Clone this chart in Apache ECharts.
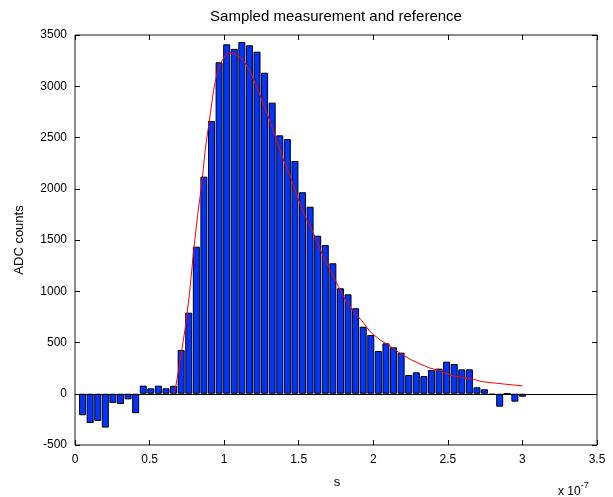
<!DOCTYPE html>
<html>
<head>
<meta charset="utf-8">
<script src="https://cdn.jsdelivr.net/npm/echarts@6/dist/echarts.min.js"></script>
<style>
  html, body { margin: 0; padding: 0; background: #ffffff; }
  #chart { width: 613px; height: 497px; }
</style>
</head>
<body>
<div id="chart"></div>
<script>
// ADC sampling grid: sample k (k = 1..N) lies at k * SAMPLE_PERIOD seconds
const SAMPLE_PERIOD = 5.085e-9;
// x axis is shown in units of 1e-7 s
const TIME_UNIT = 1e-7;

// Sampled measurement, ADC counts per sample
const measuredCounts = [
  -210, -285, -265, -330, -90, -100, -55, -190, 79, 53,
  79, 53, 78, 427, 791, 1435, 2118, 2661, 3234, 3409,
  3365, 3432, 3400, 3337, 3132, 2840, 2521, 2485, 2271, 1966,
  1825, 1542, 1451, 1273, 1029, 970, 834, 654, 573, 417,
  492, 453, 401, 183, 209, 173, 232, 245, 313, 290,
  238, 238, 63, 43, -10, -126, 0, -77, -29
];

// Reference pulse shape (time in 1e-7 s, ADC counts)
const referenceTime = [
  0.660, 0.672, 0.706, 0.739, 0.768, 0.795, 0.822, 0.851, 0.873, 0.907,
  0.929, 0.952, 0.974, 1.007, 1.030, 1.063, 1.108, 1.141, 1.175, 1.197,
  1.231, 1.304, 1.349, 1.398, 1.448, 1.499, 1.544, 1.599, 1.655, 1.711,
  1.767, 1.812, 1.867, 1.924, 1.979, 2.046, 2.113, 2.180, 2.247, 2.314,
  2.381, 2.449, 2.538, 2.605, 2.672, 2.728, 2.828, 2.895, 2.984, 3.000
];
const referenceCounts = [
  10, 40, 330, 640, 980, 1390, 1740, 2060, 2380, 2730,
  2960, 3125, 3220, 3300, 3328, 3322, 3282, 3224, 3142, 3068,
  2947, 2671, 2483, 2280, 2102, 1890, 1727, 1565, 1370, 1207,
  1045, 915, 800, 712, 605, 524, 466, 395, 336, 290,
  250, 225, 173, 157, 141, 118, 102, 92, 79, 76
];

// Axis ranges and tick steps
const xRange = [0, 3.5];
const xStep = 0.5;
const yRange = [-500, 3500];
const yStep = 500;

const FONT = "'Liberation Sans', Arial, Helvetica, sans-serif";

const barData = measuredCounts.map((v, i) => [(i + 1) * SAMPLE_PERIOD / TIME_UNIT, v]);
const lineData = referenceTime.map((t, i) => [t, referenceCounts[i]]);

const chart = echarts.init(document.getElementById('chart'), null, { renderer: 'canvas' });

const tickStyle = { inside: true, length: 5, lineStyle: { color: '#000', width: 1 } };

chart.setOption({
  animation: false,
  backgroundColor: '#ffffff',
  grid: {
    left: 75, top: 35, width: 522, height: 410,
    show: true, borderColor: '#1a1a1a', borderWidth: 1, backgroundColor: '#ffffff'
  },
  xAxis: [
    {
      type: 'value', min: xRange[0], max: xRange[1], interval: xStep, position: 'bottom',
      axisLine: { show: false, onZero: false },
      axisTick: tickStyle,
      splitLine: { show: false },
      axisLabel: {
        margin: 9, fontSize: 12, color: '#000', fontFamily: FONT,
        formatter: v => String(+v.toFixed(2))
      }
    },
    {
      type: 'value', min: xRange[0], max: xRange[1], interval: xStep, position: 'top',
      axisLine: { show: false, onZero: false },
      axisTick: tickStyle,
      splitLine: { show: false },
      axisLabel: { show: false }
    }
  ],
  yAxis: [
    {
      type: 'value', min: yRange[0], max: yRange[1], interval: yStep, position: 'left',
      axisLine: { show: false, onZero: false },
      axisTick: tickStyle,
      splitLine: { show: false },
      axisLabel: {
        margin: 8, fontSize: 12, color: '#000', fontFamily: FONT,
        formatter: v => String(Math.round(v))
      }
    },
    {
      type: 'value', min: yRange[0], max: yRange[1], interval: yStep, position: 'right',
      axisLine: { show: false, onZero: false },
      axisTick: tickStyle,
      splitLine: { show: false },
      axisLabel: { show: false }
    }
  ],
  series: [
    {
      name: 'measurement',
      type: 'bar',
      xAxisIndex: 0, yAxisIndex: 0,
      data: barData,
      barWidth: 7,
      itemStyle: { color: '#0033ff', borderColor: '#000', borderWidth: 1 },
      markLine: {
        silent: true,
        symbol: 'none',
        label: { show: false },
        lineStyle: { color: '#000', width: 1, type: 'solid' },
        data: [{ yAxis: 0 }]
      },
      z: 2
    },
    {
      name: 'reference',
      type: 'line',
      xAxisIndex: 0, yAxisIndex: 0,
      data: lineData,
      showSymbol: false,
      lineStyle: { color: '#ff0000', width: 1 },
      z: 3
    }
  ],
  graphic: [
    {
      type: 'text', x: 336, y: 17,
      style: {
        text: 'Sampled measurement and reference', fill: '#000',
        font: '15px ' + FONT, textAlign: 'center', textVerticalAlign: 'middle'
      }
    },
    {
      type: 'text', x: 337, y: 482,
      style: {
        text: 's', fill: '#000',
        font: '13px ' + FONT, textAlign: 'center', textVerticalAlign: 'middle'
      }
    },
    {
      type: 'text', x: 19, y: 240, rotation: Math.PI / 2,
      style: {
        text: 'ADC counts', fill: '#000',
        font: '13px ' + FONT, textAlign: 'center', textVerticalAlign: 'middle'
      }
    },
    {
      type: 'text', x: 558, y: 480,
      style: {
        text: '{b|x 10}{s|-7}', fill: '#000',
        rich: {
          b: { fontSize: 12, fontFamily: FONT, color: '#000', padding: [6, 0, 0, 0] },
          s: { fontSize: 9, fontFamily: FONT, color: '#000', padding: [0, 0, 6, 0] }
        }
      }
    }
  ]
});
</script>
</body>
</html>
